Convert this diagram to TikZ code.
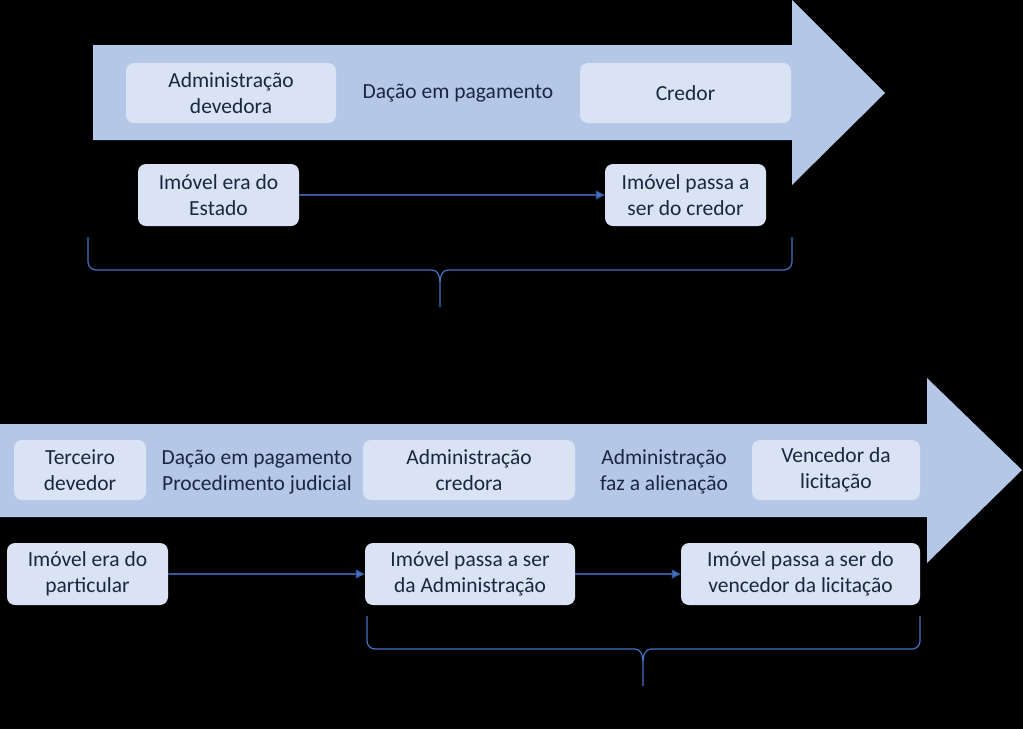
\documentclass[tikz,border=0pt]{standalone}
\usepackage{fontspec}
\setmainfont{Carlito}
\usetikzlibrary{positioning, arrows.meta}
\definecolor{cShaft}{HTML}{B4C7E7}
\definecolor{cBox}{HTML}{DAE3F3}
\definecolor{cInk}{HTML}{1C2640}
\definecolor{cLink}{HTML}{4472C4}
\definecolor{cLine}{HTML}{34579A}
\tikzset{
  stagebox/.style={
    fill=cBox, rounded corners=8pt, inner sep=0pt,
    minimum width=#1, minimum height=60pt,
    align=center, text=cInk, font=\fontsize{21.5}{26}\selectfont
  },
  steplabel/.style={
    align=center, text=cInk, font=\fontsize{21.5}{26}\selectfont
  },
  flowarrow/.style={
    -{Triangle[length=9pt, width=9pt, fill=cLink]}, draw=cLine, line width=1.1pt
  },
  bracepath/.style={
    draw=cLink, line width=1.2pt, line join=round
  },
}
\begin{document}
\begin{tikzpicture}[x=1pt, y=-1pt]
\fill[black] (0,0) rectangle (1023,729);
\useasboundingbox (0,0) rectangle (1023,729);

% top flow: big arrow
\fill[cShaft] (93,45) -- (792,45) -- (792,0) -- (885,93) -- (792,185)
  -- (792,140) -- (93,140) -- cycle;

\node[stagebox=210pt] (admdev) at (231,93) {Administração\\devedora};
\node[steplabel] (dacao) at (458,93) {Dação em pagamento};
\node[stagebox=211pt] (credor) at (685.5,93) {Credor};

\node[stagebox=161pt, minimum height=62pt] (estado) at (218.5,195) {Imóvel era do\\Estado};
\node[stagebox=161pt, minimum height=62pt] (passacred) at (685.5,195) {Imóvel passa a\\ser do credor};

\draw[flowarrow] (estado) -- (passacred);

% top brace
\draw[bracepath] (88,237) -- (88,262) to[out=-90,in=180] (96,270) -- (432,270)
  .. controls (438,270) and (440,276) .. (440,285) -- (440,307)
  (440,285) .. controls (440,276) and (442,270) .. (448,270)
  -- (784,270) to[out=0,in=-90] (792,262) -- (792,237);

% bottom flow: big arrow
\fill[cShaft] (0,424) -- (927,424) -- (927,378) -- (1022,470) -- (927,563)
  -- (927,517) -- (0,517) -- cycle;

\node[stagebox=132pt] (terceiro) at (80,470) {Terceiro\\devedor};
\node[steplabel] (judicial) at (257,472) {Dação em pagamento\\Procedimento judicial};
\node[stagebox=212pt] (admcred) at (469,470) {Administração\\credora};
\node[steplabel] (alien) at (664,472) {Administração\\faz a alienação};
\node[stagebox=168pt] (vencedor) at (836,470) {Vencedor da\\licitação};

\node[stagebox=161pt, minimum height=62pt] (particular) at (87.5,574) {Imóvel era do\\particular};
\node[stagebox=210pt, minimum height=62pt] (passaadm) at (470,574) {Imóvel passa a ser\\da Administração};
\node[stagebox=239pt, minimum height=62pt] (passavenc) at (800.5,574) {Imóvel passa a ser do\\vencedor da licitação};

\draw[flowarrow] (particular) -- (passaadm);
\draw[flowarrow] (passaadm) -- (passavenc);

% bottom brace
\draw[bracepath] (367,616) -- (367,641) to[out=-90,in=180] (375,649) -- (635,649)
  .. controls (641,649) and (643,655) .. (643,664) -- (643,686)
  (643,664) .. controls (643,655) and (645,649) .. (651,649)
  -- (912,649) to[out=0,in=-90] (920,641) -- (920,616);

\end{tikzpicture}
\end{document}
